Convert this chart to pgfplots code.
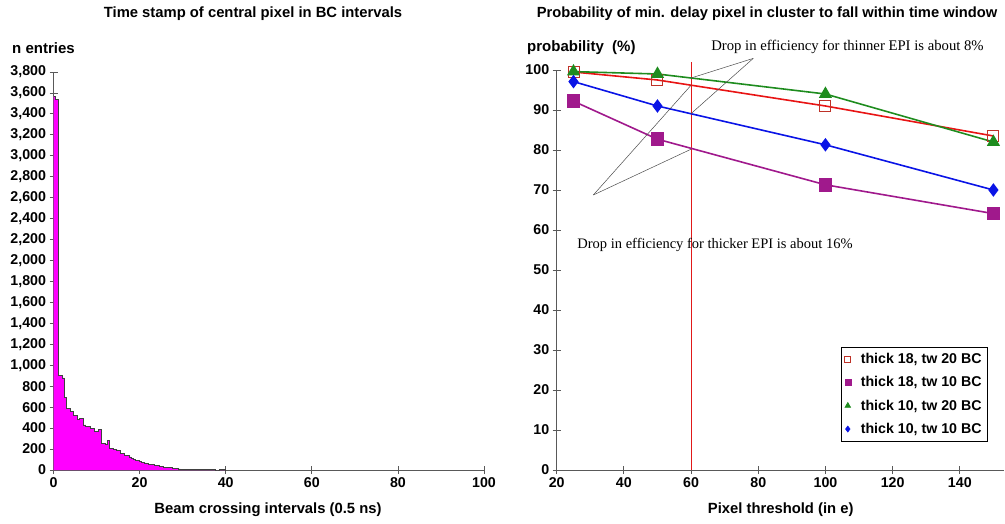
\documentclass[border=0pt]{standalone}
\usepackage{fontspec}
\setmainfont{Liberation Sans}
\newfontfamily\annfont{Liberation Serif}
\usepackage{pgfplots}
\pgfplotsset{compat=1.18}
\usepackage{pgfplotstable}
\definecolor{hist}{RGB}{255,0,255}
\definecolor{vline}{RGB}{225,25,25}
\definecolor{sred}{RGB}{232,20,20}
\definecolor{sredmark}{RGB}{190,50,40}
\definecolor{spurple}{RGB}{160,25,140}
\definecolor{sgreen}{RGB}{30,140,30}
\definecolor{sblue}{RGB}{10,20,230}
\pgfplotstableread{
x y
0 3570
0.5 3540
1.0 907
1.5 900
2.0 880
2.5 690
3.0 590
3.5 585
4.0 557
4.5 525
5.0 520
5.5 484
6.0 494
6.5 490
7.0 430
7.5 420
8.0 414
8.5 398
9.0 395
9.5 366
10.0 370
10.5 390
11.0 255
11.5 255
12.0 250
12.5 280
13.0 210
13.5 205
14.0 200
14.5 191
15.0 185
15.5 160
16.0 155
16.5 143
17.0 140
17.5 125
18.0 111
18.5 105
19.0 95
19.5 92
20.0 80
20.5 73
21.0 68
21.5 60
22.0 57
22.5 55
23.0 50
23.5 46
24.0 45
24.5 36
25.0 32
25.5 28
26.0 25
26.5 24
27.0 22
27.5 16
28.0 16
28.5 14
29.0 10
29.5 8
30.0 7
30.5 6
31.0 6
31.5 5
32.0 5
32.5 4
33.0 4
33.5 4
34.0 3
34.5 3
35.0 3
35.5 3
36.0 2
36.5 2
37.0 2
37.5 0
38.0 0
38.5 2
39.0 2
39.5 2
40.0 0
}\histdata
\begin{document}
\begin{tikzpicture}[x=1pt,y=1pt]
\useasboundingbox (0pt,0pt) rectangle (1005pt,523pt);
\pgfplotsset{every axis/.append style={scale only axis, axis lines=left,
  axis line style={-, black!65, line width=0.8pt}, tick align=center,
  major tick length=8pt, tick style={black!65, line width=0.8pt},
  ticklabel style={font=\fontsize{14.2}{16}\selectfont\bfseries},
  /pgf/number format/assume math mode=true, clip=false}}
\begin{axis}[at={(53.5pt,53pt)}, anchor=south west, width=430.5pt, height=398pt,
  xmin=0, xmax=100, ymin=0, ymax=3800, xtick={0,20,...,100}, ytick={0,200,...,3800},
  scaled y ticks=false, yticklabel style={/pgf/number format/1000 sep={,}}]
\addplot[ybar interval, fill=hist, draw=none] table[x=x,y=y]{\histdata};
\addplot[const plot, color=black!75, line width=0.6pt] table[x=x,y=y]{\histdata};
\end{axis}
\begin{axis}[at={(556.7pt,53pt)}, anchor=south west, width=446.8pt, height=400pt,
  xmin=20, xmax=153, ymin=0, ymax=100, xtick={20,40,...,140}, ytick={0,10,...,100},
  legend style={at={(0.965,0.3075)}, anchor=north east, draw=black, line width=0.6pt,
    font=\fontsize{14.2}{16}\selectfont\bfseries, row sep=7.5pt, column sep=8pt, inner sep=4pt},
  legend cell align=left]
\fill[vline] (axis cs:59.84,0) rectangle (axis cs:60.16,102);
\addplot[color=sred, line width=1.6pt, mark=square, mark size=5.5pt, mark options={draw=sredmark, fill=none, line width=1pt}, forget plot]
  coordinates {(25,99.5)(50,97.5)(100,91)(150,83.5)};
\addplot[color=spurple, line width=1.6pt, mark=square*, mark size=6pt, mark options={draw=spurple, fill=spurple}, forget plot]
  coordinates {(25,92.2)(50,82.7)(100,71.3)(150,64.1)};
\addplot[color=sgreen, line width=1.6pt, mark=triangle*, mark size=6pt, mark options={draw=sgreen, fill=sgreen}, forget plot]
  coordinates {(25,99.6)(50,99)(100,94)(150,82)};
\addplot[color=sblue, line width=1.6pt, mark=diamond*, mark size=5.5pt, mark options={draw=sblue, fill=sblue}, forget plot]
  coordinates {(25,97.1)(50,91)(100,81.3)(150,70)};
\draw[draw=black!70, line width=0.5pt] (axis cs:78.5,102.9) -- (axis cs:60,98.0);
\draw[draw=black!70, line width=0.5pt] (axis cs:78.5,102.9) -- (axis cs:60,89.1);
\draw[draw=black!70, line width=0.5pt] (axis cs:30.9,68.75) -- (axis cs:60,96.2);
\draw[draw=black!70, line width=0.5pt] (axis cs:30.9,68.75) -- (axis cs:60,80.2);
\addlegendimage{only marks, mark=square, mark size=3pt, draw=sredmark, line width=0.7pt}
\addlegendentry{thick 18, tw 20 BC}
\addlegendimage{only marks, mark=square*, mark size=3pt, draw=spurple, fill=spurple}
\addlegendentry{thick 18, tw 10 BC}
\addlegendimage{only marks, mark=triangle*, mark size=3.3pt, draw=sgreen, fill=sgreen}
\addlegendentry{thick 10, tw 20 BC}
\addlegendimage{only marks, mark=diamond*, mark size=3pt, draw=sblue, fill=sblue}
\addlegendentry{thick 10, tw 10 BC}
\end{axis}
\begin{scope}[every node/.style={inner sep=0pt}]
\node[font=\fontsize{14.8}{17}\selectfont\bfseries] at (253pt,509pt) {Time stamp of central pixel in BC intervals};
\node[font=\fontsize{14.7}{17}\selectfont\bfseries] at (767pt,509pt) {Probability of min. delay pixel in cluster to fall within time window};
\node[anchor=west, font=\fontsize{15}{17}\selectfont\bfseries] at (12pt,475pt) {n entries};
\node[anchor=west, font=\fontsize{15}{17}\selectfont\bfseries] at (527pt,475pt) {probability\ \ (\%)};
\node[font=\fontsize{14.8}{17}\selectfont\bfseries] at (268pt,13pt) {Beam crossing intervals (0.5 ns)};
\node[font=\fontsize{14.8}{17}\selectfont\bfseries] at (780.7pt,13pt) {Pixel threshold (in e)};
\node[font=\annfont\fontsize{14.7}{17}\selectfont] at (847.5pt,476pt) {Drop in efficiency for thinner EPI is about 8\%};
\node[font=\annfont\fontsize{14.5}{17}\selectfont] at (715pt,278pt) {Drop in efficiency for thicker EPI is about 16\%};
\end{scope}
\end{tikzpicture}
\end{document}
